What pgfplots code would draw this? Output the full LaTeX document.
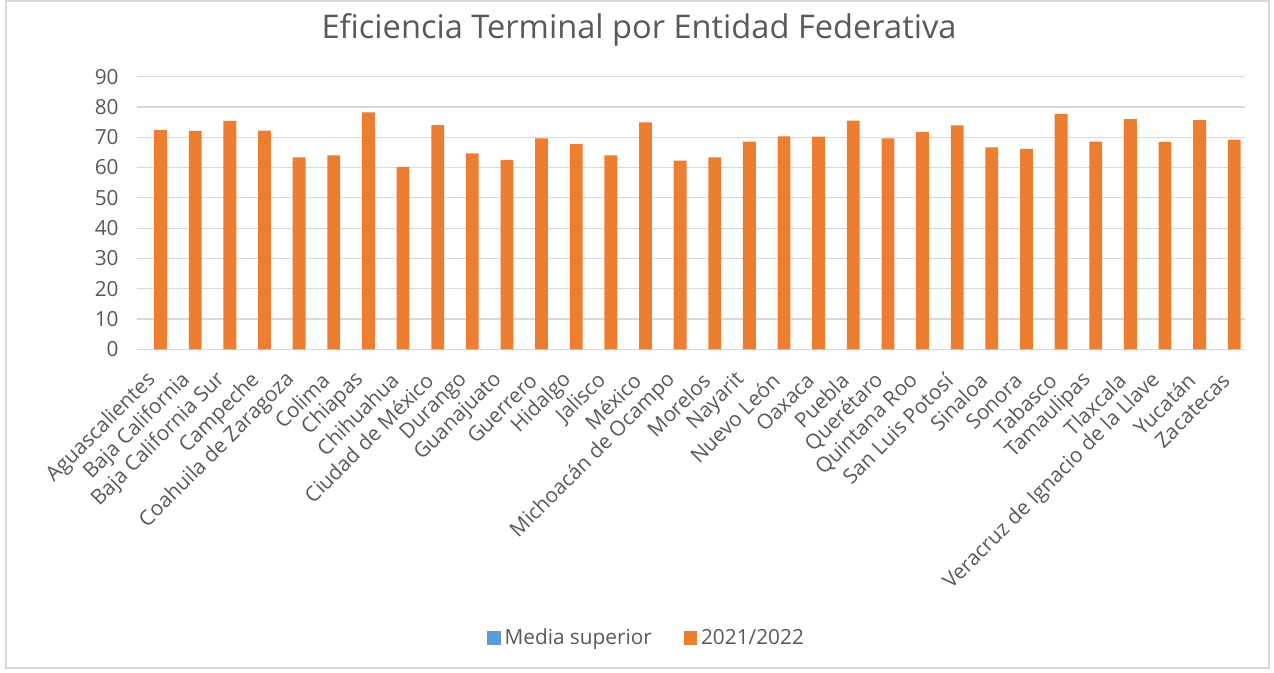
\documentclass[border=0pt]{standalone}
\usepackage{pgfplots}
\pgfplotsset{compat=1.18}
\usepackage{fontspec}
\setmainfont{Open Sans}
\definecolor{barorange}{HTML}{ED7D31}
\definecolor{barblue}{HTML}{5B9BD5}
\definecolor{txtgray}{HTML}{595959}
\definecolor{gridgray}{HTML}{D9D9D9}
\begin{document}
\begin{tikzpicture}
\path (0pt,0pt) rectangle (637pt,336.5pt);
\draw[gridgray, line width=0.6pt] (3pt,2.5pt) rectangle (634.5pt,336pt);
\node[font=\fontsize{16.3}{18}\selectfont, text=txtgray] at (319.5pt,321.5pt) {Eficiencia Terminal por Entidad Federativa};
\begin{axis}[
  at={(68.35pt,161.85pt)}, anchor=south west,
  scale only axis, width=554.15pt, height=136.3pt,
  ybar, bar width=0.37, bar shift=0.19,
  xmin=-0.5, xmax=31.5, ymin=0, ymax=90,
  ytick={0,10,...,90},
  xtick={0,...,31},
  xticklabels={Aguascalientes,Baja California,Baja California Sur,Campeche,Coahuila de Zaragoza,Colima,Chiapas,Chihuahua,Ciudad de México,Durango,Guanajuato,Guerrero,Hidalgo,Jalisco,México,Michoacán de Ocampo,Morelos,Nayarit,Nuevo León,Oaxaca,Puebla,Querétaro,Quintana Roo,San Luis Potosí,Sinaloa,Sonora,Tabasco,Tamaulipas,Tlaxcala,Veracruz de Ignacio de la Llave,Yucatán,Zacatecas},
  x tick label style={rotate=45, anchor=east, font=\fontsize{10.4}{12}\selectfont, text=txtgray, inner sep=1pt},
  y tick label style={font=\fontsize{10.4}{12}\selectfont, text=txtgray},
  /pgf/number format/assume math mode=true,
  ymajorgrids, major grid style={gridgray, line width=0.6pt},
  axis line style={draw=none},
  major tick length=0pt,
  xticklabel shift=13pt, yticklabel shift=5.5pt,
  legend columns=2,
  legend style={at={(0.461,-1.059)}, anchor=center, draw=none, fill=none,
    font=\fontsize{10.4}{12}\selectfont, text=txtgray,
    /tikz/every even column/.append style={column sep=14pt}},
  legend image code/.code={\path[#1, draw=none] (0pt,-3.3pt) rectangle (6.6pt,3.3pt);},
]
\addlegendimage{fill=barblue, draw=none}
\addlegendentry{Media superior}
\addplot[fill=barorange, draw=none] coordinates {
(0,72.4) (1,72.1) (2,75.4) (3,72.2) (4,63.4) (5,64.0) (6,78.2) (7,60.2)
(8,74.0) (9,64.7) (10,62.5) (11,69.6) (12,67.8) (13,64.0) (14,74.9) (15,62.3)
(16,63.4) (17,68.6) (18,70.3) (19,70.2) (20,75.5) (21,69.6) (22,71.7) (23,73.9)
(24,66.7) (25,66.2) (26,77.7) (27,68.6) (28,76.0) (29,68.5) (30,75.7) (31,69.2)
};
\addlegendentry{2021/2022}
\end{axis}
\end{tikzpicture}
\end{document}
